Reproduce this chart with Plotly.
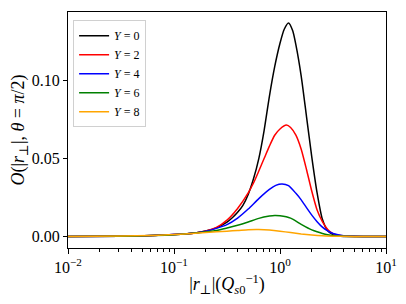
import plotly.graph_objects as go

# log10 of |r_perp| (in units of Q_s0^-1)
log_r_y0 = [-2.0, -1.5, -1.2, -1.0, -0.8, -0.7, -0.6, -0.5, -0.45, -0.4, -0.35, -0.3, -0.25, -0.2, -0.15, -0.1, -0.05, 0.0, 0.04, 0.08, 0.12, 0.15, 0.2, 0.25, 0.3, 0.35, 0.4, 0.45, 0.5, 0.55, 0.6, 0.8, 1.0]
val_y0 = [0.0, 0.0002, 0.0006, 0.0012, 0.0023, 0.0035, 0.0055, 0.0092, 0.012, 0.0155, 0.020, 0.027, 0.037, 0.050, 0.068, 0.090, 0.109, 0.124, 0.133, 0.137, 0.132, 0.123, 0.103, 0.077, 0.051, 0.028, 0.011, 0.0037, 0.0012, 0.0003, 0.0, 0.0, 0.0]

log_r_y2 = [-2.0, -1.5, -1.2, -1.0, -0.8, -0.7, -0.6, -0.5, -0.4, -0.3, -0.25, -0.2, -0.15, -0.1, -0.05, 0.0, 0.06, 0.1, 0.15, 0.2, 0.25, 0.3, 0.35, 0.4, 0.45, 0.5, 0.6, 0.8, 1.0]
val_y2 = [0.0, 0.0002, 0.0006, 0.0012, 0.0023, 0.0035, 0.0058, 0.0105, 0.018, 0.028, 0.0343, 0.042, 0.050, 0.058, 0.065, 0.069, 0.0715, 0.070, 0.065, 0.056, 0.043, 0.029, 0.017, 0.0095, 0.0045, 0.0018, 0.0003, 0.0, 0.0]

log_r_y4 = [-2.0, -1.5, -1.2, -1.0, -0.8, -0.7, -0.6, -0.5, -0.4, -0.3, -0.2, -0.1, -0.04, 0.02, 0.08, 0.15, 0.2, 0.25, 0.3, 0.35, 0.4, 0.45, 0.5, 0.6, 0.8, 1.0]
val_y4 = [0.0, 0.0002, 0.0006, 0.0012, 0.0022, 0.0033, 0.0052, 0.0076, 0.0118, 0.0176, 0.0243, 0.0302, 0.0328, 0.0337, 0.0326, 0.0277, 0.0235, 0.0185, 0.0137, 0.0095, 0.006, 0.0036, 0.0019, 0.0004, 0.0, 0.0]

log_r_y6 = [-2.0, -1.5, -1.2, -1.0, -0.8, -0.6, -0.5, -0.4, -0.3, -0.2, -0.1, -0.05, 0.0, 0.1, 0.2, 0.3, 0.35, 0.4, 0.45, 0.5, 0.6, 0.8, 1.0]
val_y6 = [0.0, 0.0002, 0.0006, 0.0011, 0.0022, 0.0038, 0.0054, 0.0072, 0.0093, 0.0116, 0.0131, 0.0135, 0.0133, 0.0118, 0.0078, 0.0042, 0.003, 0.0019, 0.0011, 0.0006, 0.0001, 0.0, 0.0]

log_r_y8 = [-2.0, -1.5, -1.2, -1.0, -0.8, -0.6, -0.5, -0.4, -0.3, -0.2, -0.1, 0.0, 0.1, 0.2, 0.3, 0.4, 0.5, 0.6, 0.8, 1.0]
val_y8 = [0.0, 0.0003, 0.0007, 0.0012, 0.0021, 0.003, 0.0034, 0.0038, 0.0043, 0.0044, 0.0041, 0.0034, 0.0025, 0.0016, 0.0009, 0.0004, 0.0002, 0.0001, 0.0, 0.0]

series_names = ["<i>Y</i> = 0", "<i>Y</i> = 2", "<i>Y</i> = 4", "<i>Y</i> = 6", "<i>Y</i> = 8"]
series_colors = ["black", "red", "blue", "green", "orange"]

x_tick_vals = [0.01, 0.1, 1, 10]
x_tick_text = ["10<sup>−2</sup>", "10<sup>−1</sup>", "10<sup>0</sup>", "10<sup>1</sup>"]
x_minor_vals = [m * d for d in (0.01, 0.1, 1) for m in range(2, 10)]
y_tick_vals = [0.0, 0.05, 0.10]
y_tick_text = ["0.00", "0.05", "0.10"]

FONT = "Liberation Serif, DejaVu Serif, serif"

fig = go.Figure()
all_x = [log_r_y0, log_r_y2, log_r_y4, log_r_y6, log_r_y8]
all_v = [val_y0, val_y2, val_y4, val_y6, val_y8]
for lx, v, name, col in zip(all_x, all_v, series_names, series_colors):
    fig.add_trace(go.Scatter(
        x=[10 ** a for a in lx], y=v, mode="lines", name=name,
        line=dict(color=col, width=1.5, shape="spline", smoothing=0.6),
    ))

# the page body has an 8px margin: shrink the figure so it fits the 406x304 window
fig.update_layout(
    width=398, height=296,
    margin=dict(l=60, r=20, t=4, b=56),
    paper_bgcolor="white", plot_bgcolor="white",
    font=dict(family=FONT, color="black", size=16),
    showlegend=True,
    legend=dict(
        x=0.016, y=0.965, xanchor="left", yanchor="top",
        bgcolor="rgba(255,255,255,0.8)", bordercolor="#d0d0d0", borderwidth=1,
        font=dict(family=FONT, size=12, color="black"),
        itemwidth=30, tracegroupgap=0,
    ),
    xaxis=dict(
        type="log", range=[-2, 1], automargin=False,
        tickvals=x_tick_vals, ticktext=x_tick_text,
        ticks="outside", ticklen=5, tickwidth=1, tickcolor="black",
        minor=dict(tickvals=x_minor_vals, ticks="outside", ticklen=2.5, tickwidth=0.8, tickcolor="black", showgrid=False),
        showline=True, linecolor="black", linewidth=1, mirror=True,
        showgrid=False, zeroline=False,
        tickfont=dict(size=16),
        title=dict(text="|<i>r</i><sub>⊥</sub>|(<i>Q</i><sub><i>s</i>0</sub><sup>−1</sup>)", font=dict(size=18), standoff=2),
    ),
    yaxis=dict(
        range=[-0.0074, 0.1441], automargin=False,
        tickvals=y_tick_vals, ticktext=y_tick_text,
        ticks="outside", ticklen=4, tickwidth=1, tickcolor="black",
        showline=True, linecolor="black", linewidth=1, mirror=True,
        showgrid=False, zeroline=False,
        tickfont=dict(size=16),
        title=dict(text="<i>O</i>(|<i>r</i><sub>⊥</sub>|, <i>θ</i> = <i>π</i>/2)", font=dict(size=18), standoff=4),
    ),
)

fig.write_html("out.html")
